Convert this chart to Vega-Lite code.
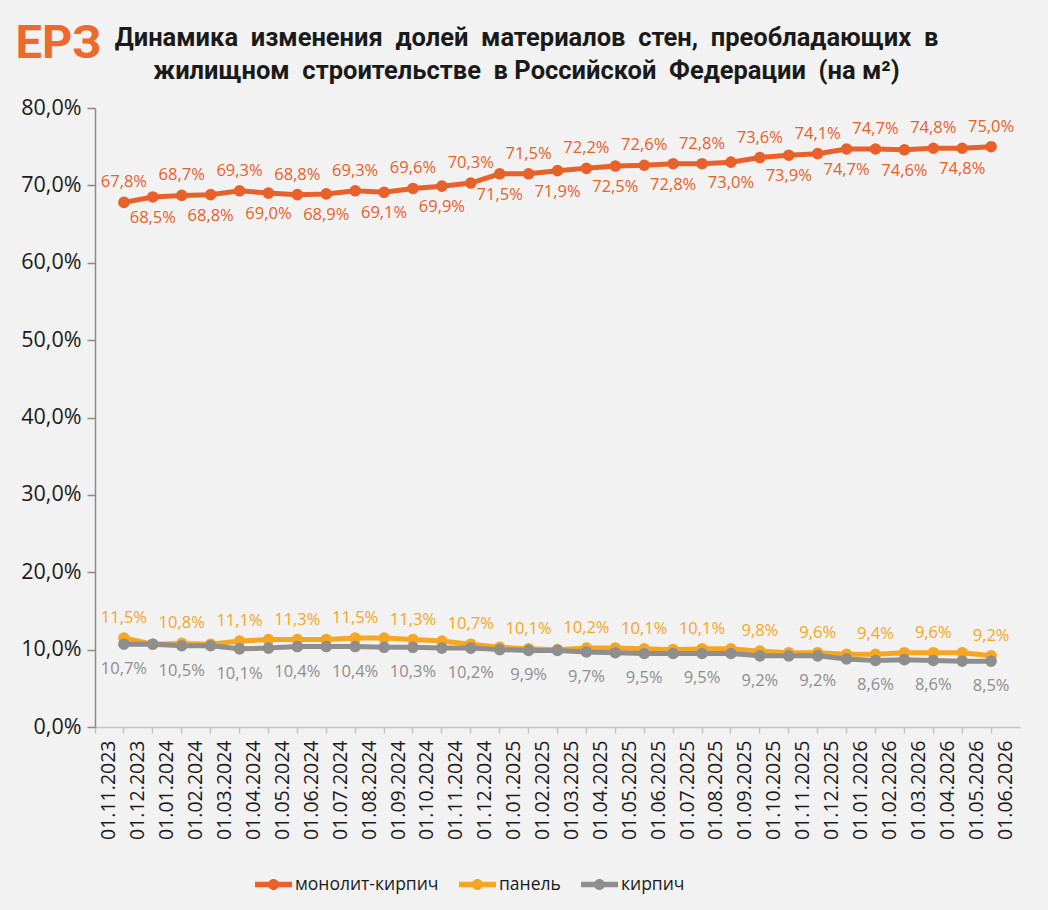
{
  "$schema": "https://vega.github.io/schema/vega-lite/v6.json",
  "width": 925,
  "height": 619,
  "autosize": {"type": "none"},
  "padding": {"left": 95, "top": 108, "right": 28, "bottom": 183},
  "background": "#F2F2F2",
  "title": {
    "text": ["Динамика\u00a0 изменения\u00a0 долей\u00a0 материалов\u00a0 стен,\u00a0 преобладающих\u00a0 в", "жилищном\u00a0 строительстве\u00a0 в Российской\u00a0 Федерации\u00a0 (на м²)"],
    "anchor": "middle",
    "dx": -31,
    "font": "Roboto",
    "fontSize": 25.5,
    "fontWeight": "bold",
    "color": "#1A1A1A",
    "lineHeight": 33,
    "offset": -65
  },
  "config": {
    "locale": {"number": {"decimal": ",", "thousands": " ", "grouping": [3], "currency": ["", ""]}},
    "view": {"stroke": null},
    "font": "Open Sans"
  },
  "data": {"values": [
    {"date":"01.12.2023","series":"монолит-кирпич","value":0.678},
    {"date":"01.01.2024","series":"монолит-кирпич","value":0.685},
    {"date":"01.02.2024","series":"монолит-кирпич","value":0.687},
    {"date":"01.03.2024","series":"монолит-кирпич","value":0.688},
    {"date":"01.04.2024","series":"монолит-кирпич","value":0.693},
    {"date":"01.05.2024","series":"монолит-кирпич","value":0.690},
    {"date":"01.06.2024","series":"монолит-кирпич","value":0.688},
    {"date":"01.07.2024","series":"монолит-кирпич","value":0.689},
    {"date":"01.08.2024","series":"монолит-кирпич","value":0.693},
    {"date":"01.09.2024","series":"монолит-кирпич","value":0.691},
    {"date":"01.10.2024","series":"монолит-кирпич","value":0.696},
    {"date":"01.11.2024","series":"монолит-кирпич","value":0.699},
    {"date":"01.12.2024","series":"монолит-кирпич","value":0.703},
    {"date":"01.01.2025","series":"монолит-кирпич","value":0.715},
    {"date":"01.02.2025","series":"монолит-кирпич","value":0.715},
    {"date":"01.03.2025","series":"монолит-кирпич","value":0.719},
    {"date":"01.04.2025","series":"монолит-кирпич","value":0.722},
    {"date":"01.05.2025","series":"монолит-кирпич","value":0.725},
    {"date":"01.06.2025","series":"монолит-кирпич","value":0.726},
    {"date":"01.07.2025","series":"монолит-кирпич","value":0.728},
    {"date":"01.08.2025","series":"монолит-кирпич","value":0.728},
    {"date":"01.09.2025","series":"монолит-кирпич","value":0.730},
    {"date":"01.10.2025","series":"монолит-кирпич","value":0.736},
    {"date":"01.11.2025","series":"монолит-кирпич","value":0.739},
    {"date":"01.12.2025","series":"монолит-кирпич","value":0.741},
    {"date":"01.01.2026","series":"монолит-кирпич","value":0.747},
    {"date":"01.02.2026","series":"монолит-кирпич","value":0.747},
    {"date":"01.03.2026","series":"монолит-кирпич","value":0.746},
    {"date":"01.04.2026","series":"монолит-кирпич","value":0.748},
    {"date":"01.05.2026","series":"монолит-кирпич","value":0.748},
    {"date":"01.06.2026","series":"монолит-кирпич","value":0.750},
    {"date":"01.12.2023","series":"панель","value":0.115},
    {"date":"01.01.2024","series":"панель","value":0.107},
    {"date":"01.02.2024","series":"панель","value":0.108},
    {"date":"01.03.2024","series":"панель","value":0.107},
    {"date":"01.04.2024","series":"панель","value":0.111},
    {"date":"01.05.2024","series":"панель","value":0.113},
    {"date":"01.06.2024","series":"панель","value":0.113},
    {"date":"01.07.2024","series":"панель","value":0.113},
    {"date":"01.08.2024","series":"панель","value":0.115},
    {"date":"01.09.2024","series":"панель","value":0.115},
    {"date":"01.10.2024","series":"панель","value":0.113},
    {"date":"01.11.2024","series":"панель","value":0.111},
    {"date":"01.12.2024","series":"панель","value":0.107},
    {"date":"01.01.2025","series":"панель","value":0.103},
    {"date":"01.02.2025","series":"панель","value":0.101},
    {"date":"01.03.2025","series":"панель","value":0.100},
    {"date":"01.04.2025","series":"панель","value":0.102},
    {"date":"01.05.2025","series":"панель","value":0.102},
    {"date":"01.06.2025","series":"панель","value":0.101},
    {"date":"01.07.2025","series":"панель","value":0.100},
    {"date":"01.08.2025","series":"панель","value":0.101},
    {"date":"01.09.2025","series":"панель","value":0.101},
    {"date":"01.10.2025","series":"панель","value":0.098},
    {"date":"01.11.2025","series":"панель","value":0.096},
    {"date":"01.12.2025","series":"панель","value":0.096},
    {"date":"01.01.2026","series":"панель","value":0.094},
    {"date":"01.02.2026","series":"панель","value":0.094},
    {"date":"01.03.2026","series":"панель","value":0.096},
    {"date":"01.04.2026","series":"панель","value":0.096},
    {"date":"01.05.2026","series":"панель","value":0.096},
    {"date":"01.06.2026","series":"панель","value":0.092},
    {"date":"01.12.2023","series":"кирпич","value":0.107},
    {"date":"01.01.2024","series":"кирпич","value":0.107},
    {"date":"01.02.2024","series":"кирпич","value":0.105},
    {"date":"01.03.2024","series":"кирпич","value":0.105},
    {"date":"01.04.2024","series":"кирпич","value":0.101},
    {"date":"01.05.2024","series":"кирпич","value":0.102},
    {"date":"01.06.2024","series":"кирпич","value":0.104},
    {"date":"01.07.2024","series":"кирпич","value":0.104},
    {"date":"01.08.2024","series":"кирпич","value":0.104},
    {"date":"01.09.2024","series":"кирпич","value":0.103},
    {"date":"01.10.2024","series":"кирпич","value":0.103},
    {"date":"01.11.2024","series":"кирпич","value":0.102},
    {"date":"01.12.2024","series":"кирпич","value":0.102},
    {"date":"01.01.2025","series":"кирпич","value":0.100},
    {"date":"01.02.2025","series":"кирпич","value":0.099},
    {"date":"01.03.2025","series":"кирпич","value":0.099},
    {"date":"01.04.2025","series":"кирпич","value":0.097},
    {"date":"01.05.2025","series":"кирпич","value":0.096},
    {"date":"01.06.2025","series":"кирпич","value":0.095},
    {"date":"01.07.2025","series":"кирпич","value":0.095},
    {"date":"01.08.2025","series":"кирпич","value":0.095},
    {"date":"01.09.2025","series":"кирпич","value":0.095},
    {"date":"01.10.2025","series":"кирпич","value":0.092},
    {"date":"01.11.2025","series":"кирпич","value":0.092},
    {"date":"01.12.2025","series":"кирпич","value":0.092},
    {"date":"01.01.2026","series":"кирпич","value":0.088},
    {"date":"01.02.2026","series":"кирпич","value":0.086},
    {"date":"01.03.2026","series":"кирпич","value":0.087},
    {"date":"01.04.2026","series":"кирпич","value":0.086},
    {"date":"01.05.2026","series":"кирпич","value":0.085},
    {"date":"01.06.2026","series":"кирпич","value":0.085}
  ]},
  "encoding": {
    "x": {
      "field": "date",
      "type": "ordinal",
      "bandPosition": 0,
      "scale": {
        "type": "band",
        "paddingInner": 0,
        "paddingOuter": 0,
        "domain": ["01.11.2023","01.12.2023","01.01.2024","01.02.2024","01.03.2024","01.04.2024","01.05.2024","01.06.2024","01.07.2024","01.08.2024","01.09.2024","01.10.2024","01.11.2024","01.12.2024","01.01.2025","01.02.2025","01.03.2025","01.04.2025","01.05.2025","01.06.2025","01.07.2025","01.08.2025","01.09.2025","01.10.2025","01.11.2025","01.12.2025","01.01.2026","01.02.2026","01.03.2026","01.04.2026","01.05.2026","01.06.2026"]
      },
      "axis": {
        "title": null,
        "bandPosition": 0,
        "labelAngle": 270,
        "labelAlign": "right",
        "labelBaseline": "middle",
        "labelFont": "Open Sans",
        "labelFontSize": 19.5,
        "labelColor": "#1A1A1A",
        "labelPadding": 7,
        "labelOverlap": false,
        "labelFlush": false,
        "domainColor": "#C4C4C4",
        "domainWidth": 1.5,
        "tickColor": "#C4C4C4",
        "tickSize": 6,
        "tickWidth": 1.5,
        "grid": false
      }
    },
    "y": {
      "field": "value",
      "type": "quantitative",
      "scale": {"domain": [0, 0.8], "nice": false},
      "axis": {
        "values": [0, 0.1, 0.2, 0.3, 0.4, 0.5, 0.6, 0.7, 0.8],
        "format": ".1%",
        "grid": false,
        "title": "ЕРЗ",
        "titleAngle": 0,
        "titleX": -80,
        "titleY": -51,
        "titleAlign": "left",
        "titleBaseline": "alphabetic",
        "titleFont": "Roboto",
        "titleFontSize": 47,
        "titleFontWeight": "bold",
        "titleColor": "#EC6A2B",
        "labelFont": "Open Sans",
        "labelFontSize": 21.5,
        "labelColor": "#1A1A1A",
        "labelPadding": 6,
        "domainColor": "#8A8A8A",
        "domainWidth": 1.5,
        "tickColor": "#8A8A8A",
        "tickSize": 8,
        "tickWidth": 1.5
      }
    },
    "color": {
      "field": "series",
      "type": "nominal",
      "scale": {
        "domain": ["монолит-кирпич", "панель", "кирпич"],
        "range": ["#E8602A", "#F5A623", "#8E8E8E"]
      },
      "legend": {
        "title": null,
        "orient": "none",
        "legendX": 160,
        "legendY": 758,
        "direction": "horizontal",
        "symbolType": "M-1,-0.15H1V0.15H-1Z M-0.3,0A0.3,0.3,0,1,1,0.3,0A0.3,0.3,0,1,1,-0.3,0Z",
        "symbolSize": 1369,
        "labelFont": "Open Sans",
        "labelFontSize": 17.5,
        "labelColor": "#1A1A1A",
        "labelOffset": 3,
        "columnPadding": 20,
        "encode": {"symbols": {"update": {"fill": {"scale": "color", "field": "value"}, "stroke": {"value": "transparent"}, "strokeWidth": {"value": 0}, "opacity": {"value": 1}}}}
      }
    }
  },
  "layer": [
    {
      "mark": {"type": "line", "strokeWidth": 5, "point": {"filled": true, "size": 135, "opacity": 1}}
    },
    {
      "transform": [
        {"window": [{"op": "row_number", "as": "rn"}], "groupby": ["series"]},
        {"filter": "datum.series !== 'кирпич' && datum.rn % 2 === 1"}
      ],
      "mark": {"type": "text", "dy": -20, "fontSize": 16.5, "fontWeight": 500, "baseline": "middle"},
      "encoding": {"text": {"field": "value", "type": "quantitative", "format": ".1%"}}
    },
    {
      "transform": [
        {"window": [{"op": "row_number", "as": "rn"}], "groupby": ["series"]},
        {"filter": "datum.series === 'монолит-кирпич' && datum.rn % 2 === 0"}
      ],
      "mark": {"type": "text", "dy": 21, "fontSize": 16.5, "fontWeight": 500, "baseline": "middle"},
      "encoding": {"text": {"field": "value", "type": "quantitative", "format": ".1%"}}
    },
    {
      "transform": [
        {"window": [{"op": "row_number", "as": "rn"}], "groupby": ["series"]},
        {"filter": "datum.series === 'кирпич' && datum.rn % 2 === 1"}
      ],
      "mark": {"type": "text", "dy": 25, "fontSize": 16.5, "fontWeight": 500, "baseline": "middle"},
      "encoding": {"text": {"field": "value", "type": "quantitative", "format": ".1%"}}
    }
  ]
}
